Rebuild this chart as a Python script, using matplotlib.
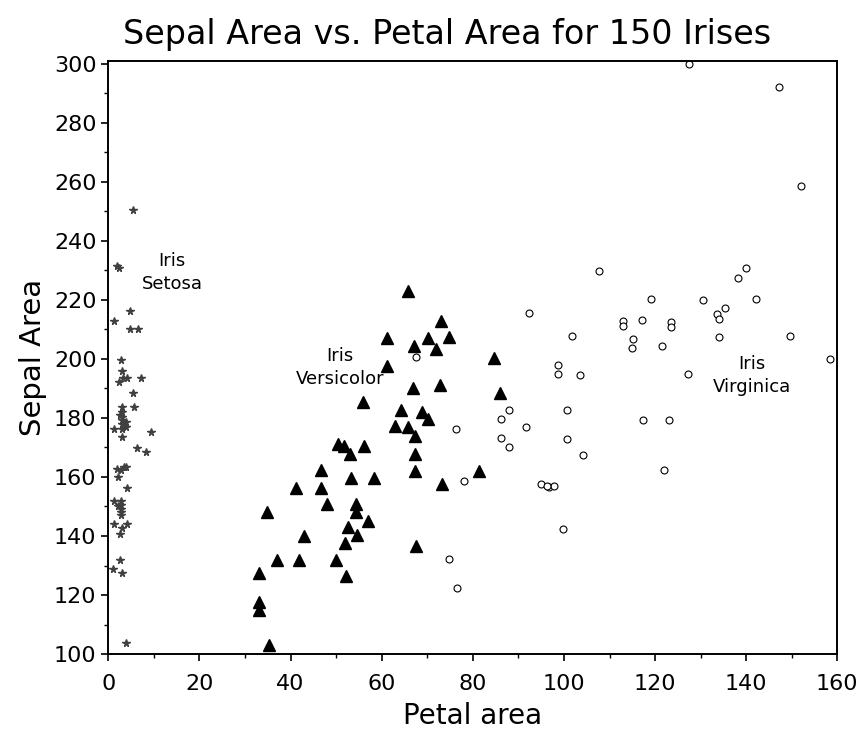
import matplotlib
matplotlib.use('Agg')
import matplotlib.pyplot as plt
from matplotlib.ticker import MultipleLocator

# Iris setosa (petal area, sepal area)
setosa_x = [5.5, 2.0, 2.4, 4.8, 1.3, 4.8, 6.5, 2.7, 2.9, 2.3, 3.3, 4.0, 7.2, 5.5, 5.7,
            2.9, 2.9, 2.9, 2.9, 2.9, 2.9, 2.5, 3.9, 3.9, 1.3, 2.9, 9.4, 6.2, 8.3,
            2.0, 2.7, 3.4, 3.8, 2.2, 4.0, 1.3, 2.7, 2.7, 2.7, 2.7, 2.7, 2.2,
            1.3, 2.6, 3.1, 4.0, 2.6, 1.0, 2.9, 3.9]
setosa_y = [250.3, 231.5, 230.8, 216.1, 212.8, 210.1, 210.1, 199.5, 195.8, 192.1, 193.5, 193.5, 193.5, 188.4, 183.7,
            183.7, 182.0, 180.3, 179.2, 178.1, 176.4, 181.0, 178.6, 176.9, 176.4, 173.5, 175.2, 169.9, 168.5,
            162.8, 162.3, 163.4, 163.4, 160.0, 156.3, 151.9, 151.9, 150.4, 149.3, 148.2, 147.0, 150.1,
            143.9, 140.8, 142.7, 143.9, 132.0, 128.9, 127.5, 103.6]

# Iris versicolor
versi_x = [65.7, 73.0, 61.2, 70.2, 74.8, 67.1, 71.9, 61.2, 66.9, 72.7, 55.8, 64.2, 68.8, 70.1, 62.9,
           65.8, 67.3, 67.3, 67.3, 50.3, 51.8, 53.1, 56.2, 46.7, 53.3, 58.4, 73.2, 41.1, 46.7, 47.9,
           54.4, 54.4, 34.8, 56.9, 52.7, 43.0, 54.5, 52.0, 67.5, 37.0, 41.9, 50.0, 33.1, 52.1, 33.1,
           33.1, 35.3, 84.7, 86.0, 81.4]
versi_y = [222.9, 213.0, 207.0, 207.0, 207.4, 204.2, 203.5, 197.5, 190.3, 191.0, 185.4, 182.8, 182.0, 179.8, 177.2,
           176.9, 173.9, 167.9, 162.0, 171.1, 170.5, 167.9, 170.5, 162.5, 159.5, 159.5, 157.5, 156.3, 156.1, 150.7,
           151.0, 148.2, 148.2, 145.0, 143.1, 140.0, 140.3, 137.5, 136.5, 132.0, 132.0, 132.0, 127.5, 126.4, 117.5,
           114.9, 103.0, 200.4, 188.6, 161.9]

# Iris virginica
virg_x = [107.6, 92.4, 112.9, 112.9, 127.5, 147.1, 152.0, 140.0, 138.1, 119.1, 130.6, 142.1, 135.4, 133.5,
          134.0, 117.1, 123.4, 123.4, 101.7, 115.2, 115.0, 98.6, 98.6, 103.5, 87.9, 86.1, 91.6, 76.3, 100.6,
          86.1, 87.9, 100.6, 104.1, 78.1, 95.0, 96.7, 97.8, 99.7, 74.8, 76.5, 121.5, 134.0, 149.6, 158.3,
          127.2, 117.3, 123.1, 122.0, 67.5, 96.2]
virg_y = [229.7, 215.6, 213.0, 211.1, 299.9, 292.0, 258.7, 230.7, 227.3, 220.4, 220.0, 220.4, 217.3, 215.3,
          213.6, 213.3, 212.5, 210.8, 207.6, 206.8, 203.7, 198.0, 194.8, 194.7, 182.6, 179.8, 176.9, 176.2, 182.6,
          173.3, 170.2, 172.7, 167.3, 158.5, 157.5, 156.6, 157.0, 142.5, 132.1, 122.4, 204.3, 207.4, 207.6, 200.1,
          194.8, 179.2, 179.2, 162.5, 200.8, 156.8]

fig = plt.figure(figsize=(8.6, 7.3), dpi=100, facecolor='white')
ax = fig.add_axes([0.126, 0.104, 0.8476, 0.8128])

ax.plot(setosa_x, setosa_y, linestyle='none', marker='*', ms=5.5, color='0.25', mec='0.25')
ax.plot(versi_x, versi_y, linestyle='none', marker='^', ms=8, color='black')
ax.plot(virg_x, virg_y, linestyle='none', marker='o', ms=5, mfc='white', mec='black', mew=0.8)

ax.set_xlim(0, 160)
ax.set_ylim(100, 301)
ax.xaxis.set_major_locator(MultipleLocator(20))
ax.xaxis.set_minor_locator(MultipleLocator(10))
ax.yaxis.set_major_locator(MultipleLocator(20))
ax.yaxis.set_minor_locator(MultipleLocator(10))
ax.tick_params(which='major', direction='out', length=5, width=1.2, labelsize=16, top=False, right=False)
ax.tick_params(axis='x', which='major', pad=9)
ax.tick_params(which='minor', direction='out', length=3, width=1, top=False, right=False)
for s in ax.spines.values():
    s.set_linewidth(1.4)

ax.set_xlabel('Petal area', fontsize=20, labelpad=6)
ax.set_ylabel('Sepal Area', fontsize=21, labelpad=5)
fig.suptitle('Sepal Area vs. Petal Area for 150 Irises', fontsize=24, x=0.52, y=0.975)

ax.text(14.0, 229.3, 'Iris\nSetosa', fontsize=13, ha='center', va='center', linespacing=1.4)
ax.text(50.9, 197.1, 'Iris\nVersicolor', fontsize=13, ha='center', va='center', linespacing=1.4)
ax.text(141.3, 194.4, 'Iris\nVirginica', fontsize=13, ha='center', va='center', linespacing=1.4)

fig.savefig('out.png', dpi=100, facecolor='white')
